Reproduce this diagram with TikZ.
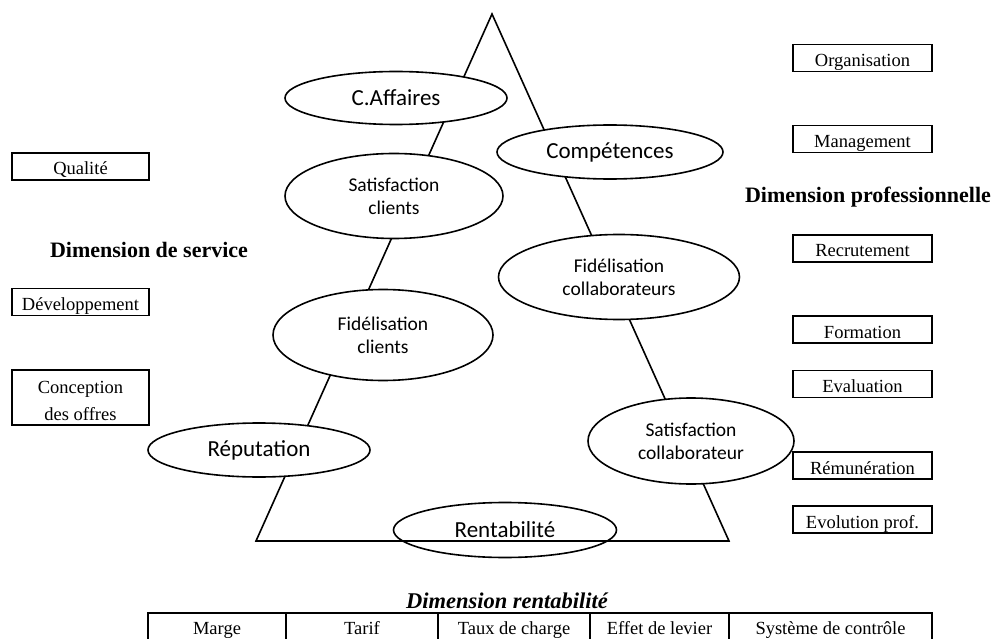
\documentclass[tikz,border=0pt]{standalone}
\usepackage{fontspec}
\setmainfont{Liberation Serif}
\newfontfamily\calibri{Carlito}
\usetikzlibrary{shapes.geometric,positioning}

\begin{document}
\begin{tikzpicture}[x=1pt, y=-1pt, every node/.style={inner sep=0pt, outer sep=0pt},
        bulle/.style={ellipse, draw, line width=1.6pt, fill=white, align=center,
            font=\calibri\fontsize{19.5}{23}\selectfont},
        grande/.style={font=\calibri\fontsize{23}{27}\selectfont},
        cadre/.style={rectangle, draw, line width=1.6pt, minimum width=137pt, minimum height=27pt,
            text height=17pt, text depth=0pt, font=\fontsize{18.5}{22}\selectfont},
        titre/.style={font=\bfseries\fontsize{22}{26}\selectfont},
        cellule/.style={rectangle, draw, line width=1.6pt, minimum height=44pt,
            text height=17pt, text depth=19pt, font=\fontsize{18.5}{22}\selectfont}]

    \useasboundingbox (0,0) rectangle (996,639);

    % la pyramide
    \coordinate (sommet) at (492,14);
    \coordinate (gauche) at (256,541);
    \coordinate (droite) at (729,541);
    \node[bulle, grande, fill=none, minimum width=223pt, minimum height=55pt] (rentabilite) at (505,530) {Rentabilité};
    \draw[line width=1.6pt] (sommet) -- (gauche) -- (droite) -- cycle;

    % cote service
    \node[bulle, grande, minimum width=222pt, minimum height=53pt] (affaires) at (396,98) {C.Affaires};
    \node[bulle, minimum width=218pt, minimum height=85pt] (satclients) at (394,196) {Satisfaction\\clients};
    \node[bulle, minimum width=220pt, minimum height=91pt] (fidclients) at (383,335) {Fidélisation\\clients};
    \node[bulle, grande, minimum width=222pt, minimum height=54pt] (reputation) at (259,450) {Réputation};

    % cote professionnel
    \node[bulle, grande, minimum width=226pt, minimum height=54pt] (competences) at (610,152) {Compétences};
    \node[bulle, minimum width=241pt, minimum height=85pt] (fidcollab) at (619,277) {Fidélisation\\collaborateurs};
    \node[bulle, minimum width=206pt, minimum height=86pt] (satcollab) at (691,441) {Satisfaction\\collaborateur};

    % dimension de service
    \node[titre] (service) at (149,249.5) {Dimension de service};
    \node[cadre] (qualite) at (80.5,166.5) {Qualité};
    \node[cadre] (developpement) at (80.5,302) {Développement};
    \node[cadre, minimum height=55pt, align=center, text height=45pt, text depth=0pt,
        font=\fontsize{18.5}{27}\selectfont] (conception) at (80.5,397.5) {Conception\\des offres};

    % dimension professionnelle
    \node[titre] (professionnelle) at (868,197) {Dimension professionnelle};
    \node[cadre, minimum width=139pt] (organisation) at (862.5,58) {Organisation};
    \node[cadre, minimum width=139pt] (management) at (862.5,139) {Management};
    \node[cadre, minimum width=139pt] (recrutement) at (862.5,248.5) {Recrutement};
    \node[cadre, minimum width=139pt] (formation) at (862.5,329.5) {Formation};
    \node[cadre, minimum width=139pt] (evaluation) at (862.5,384) {Evaluation};
    \node[cadre, minimum width=139pt] (remuneration) at (862.5,465.5) {Rémunération};
    \node[cadre, minimum width=139pt] (evolution) at (862.5,519.5) {Evolution prof.};

    % dimension rentabilite
    \node[font=\bfseries\itshape\fontsize{22.5}{26}\selectfont] (rentab) at (507,600.5) {Dimension rentabilité};
    \node[cellule, minimum width=138pt, anchor=north west] (marge) at (148,613) {Marge};
    \node[cellule, minimum width=152pt, right=0pt of marge] (tarif) {Tarif};
    \node[cellule, minimum width=152pt, right=0pt of tarif] (taux) {Taux de charge};
    \node[cellule, minimum width=139pt, right=0pt of taux] (levier) {Effet de levier};
    \node[cellule, minimum width=203pt, right=0pt of levier] (controle) {Système de contrôle};
\end{tikzpicture}
\end{document}
